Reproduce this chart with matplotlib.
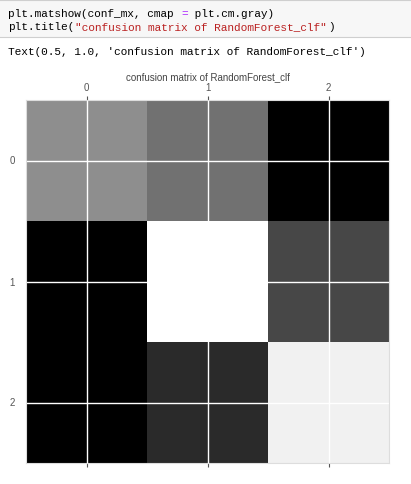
import numpy as np
import matplotlib.pyplot as plt
from matplotlib.patches import Rectangle

# confusion matrix values read from the grey levels
classes = [0, 1, 2]
conf_mx = np.array([[10, 8, 0],
                    [0, 18, 5],
                    [0, 3, 17]])

code_line1 = [("plt.matshow(conf_mx, cmap ", "#000000"), ("=", "#aa22ff"),
              (" plt.cm.gray)", "#000000")]
code_line2 = [("plt.title(", "#000000"),
              ('"confusion matrix of RandomForest_clf"', "#ba2121"),
              (")", "#000000")]
out_line = "Text(0.5, 1.0, 'confusion matrix of RandomForest_clf')"

W, H, DPI = 411, 484, 100
fig = plt.figure(figsize=(W / DPI, H / DPI), dpi=DPI)
fig.patch.set_facecolor("white")

# notebook input cell
fig.patches.append(Rectangle((-0.01, 1 - 37 / H), 1.02, 37 / H, transform=fig.transFigure,
                             facecolor="#f7f7f7", edgecolor="#cfcfcf", lw=0.8))

fs = 8
cw = 0.6 * fs / 72 * DPI  # char width in px (monospace)

def put_line(parts, x0, y):
    n = 0
    for txt, col in parts:
        fig.text((x0 + n * cw) / W, 1 - y / H, txt, color=col, family="Liberation Mono",
                 fontsize=fs, va="baseline", ha="left")
        n += len(txt)

put_line(code_line1, 8, 17)
put_line(code_line2, 8, 30)
put_line([(out_line, "#000000")], 8, 55)

# the chart
ax = fig.add_axes([26 / W, 21 / H, 363 / W, 363 / H])
ax.matshow(conf_mx, cmap=plt.cm.gray)
ax.set_title("confusion matrix of RandomForest_clf", fontsize=7, color="#444444",
             family="Liberation Sans", pad=2)
ax.set_xticks(classes)
ax.set_yticks(classes)
ax.tick_params(axis="x", which="both", top=True, bottom=True, labeltop=True,
               labelbottom=False, length=3, width=0.8, color="#555555",
               labelsize=7, labelcolor="#555555", pad=2)
ax.tick_params(axis="y", length=0, labelsize=7, labelcolor="#555555", pad=8)
for lab in ax.get_xticklabels() + ax.get_yticklabels():
    lab.set_family("Liberation Sans")
ax.grid(True, color="white", lw=1)
for s in ax.spines.values():
    s.set_color("#dddddd")
    s.set_linewidth(0.8)

plt.savefig("out.png", dpi=DPI)
